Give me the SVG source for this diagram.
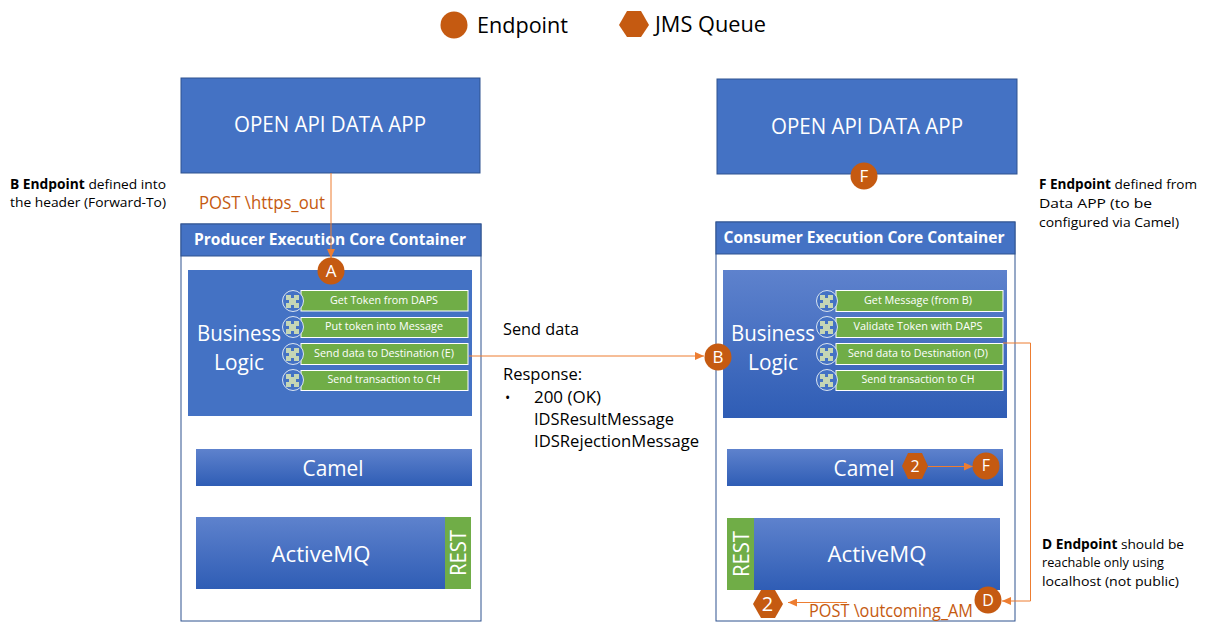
<svg xmlns="http://www.w3.org/2000/svg" width="1211" height="634" viewBox="0 0 1211 634">
<style>
text{font-family:"Open Sans","Noto Sans","Liberation Sans",sans-serif}
.w{fill:#fff}.k{fill:#000}.o{fill:#c55a11}
.m{text-anchor:middle}
.app{fill:#4472c4;stroke:#2f528f;stroke-width:1}
.cont{fill:#fff;stroke:#2f528f;stroke-width:1}
.hdr{fill:#4472c4;stroke:#2f528f;stroke-width:1}
.ep{fill:#c55a11}
.item{fill:#70ad47;stroke:#fff;stroke-width:1}
.ic{fill:#4472c4;stroke:#dbe5f1;stroke-width:1}
.pz{fill:#c5d6b5}
.ln{fill:none;stroke:#ed7d31;stroke-width:1;marker-end:url(#a)}
.it{font-size:10.5px}
.note{font-size:13.5px}
.big{font-size:22px}
.mid{font-size:16px}
.post{font-size:17.5px}
</style>
<defs>
<marker id="a" markerWidth="10" markerHeight="8" refX="9" refY="4" orient="auto" markerUnits="userSpaceOnUse"><path d="M0 0L9 4L0 8Z" fill="#ed7d31"/></marker>
<linearGradient id="g" x1="0" y1="0" x2="0" y2="1"><stop offset="0" stop-color="#5e82cd"/><stop offset="1" stop-color="#2f5db5"/></linearGradient>
<g id="puz"><circle r="10.5" class="ic"/><path class="pz" d="M-7-6h5v3h3v-3h5v5h-3v3h3v5h-5v-3h-3v3h-5v-5h3v-3h-3z"/></g>
</defs>
<g id="legend">
<circle class="ep" cx="454" cy="25" r="13.5"/>
<text class="k big" x="477" y="33" textLength="91" lengthAdjust="spacingAndGlyphs">Endpoint</text>
<path class="ep" d="M619 25L627 11H641L649 25L641 37H627Z"/>
<text class="k big" x="655" y="32" textLength="111" lengthAdjust="spacingAndGlyphs">JMS Queue</text>
</g>
<g id="producer-app"><rect class="app" x="181" y="78" width="299" height="95"/><text class="w m big" x="330" y="132" textLength="192" lengthAdjust="spacingAndGlyphs">OPEN API DATA APP</text></g>
<g id="consumer-app"><rect class="app" x="717" y="79" width="300" height="95"/><text class="w m big" x="867" y="134" textLength="192" lengthAdjust="spacingAndGlyphs">OPEN API DATA APP</text></g>
<g id="producer-container"><rect class="cont" x="181" y="224" width="300" height="397"/><rect class="hdr" x="181" y="224" width="300" height="32"/><text class="w m" x="330" y="245" font-size="16.500" font-weight="700" textLength="272" lengthAdjust="spacingAndGlyphs">Producer Execution Core Container</text></g>
<g id="consumer-container"><rect class="cont" x="716" y="222" width="299" height="399"/><rect class="hdr" x="716" y="222" width="299" height="32"/><text class="w m" x="864" y="243" font-size="16.500" font-weight="700" textLength="281" lengthAdjust="spacingAndGlyphs">Consumer Execution Core Container</text></g>
<g id="producer-logic"><rect x="188" y="270" width="284" height="146" fill="#4472c4"/><text class="w m big" x="239" y="341" textLength="84" lengthAdjust="spacingAndGlyphs">Business</text><text class="w m big" x="239" y="370" textLength="50" lengthAdjust="spacingAndGlyphs">Logic</text></g>
<g id="p1"><rect class="item" x="301" y="290.5" width="167" height="20.5"/><use href="#puz" x="293" y="301"/><text class="w m it" x="384" y="304" textLength="108" lengthAdjust="spacingAndGlyphs">Get Token from DAPS</text></g>
<g id="p2"><rect class="item" x="301" y="317.5" width="167" height="20"/><use href="#puz" x="293" y="327"/><text class="w m it" x="384" y="330" textLength="118" lengthAdjust="spacingAndGlyphs">Put token into Message</text></g>
<g id="p3"><rect class="item" x="301" y="343.5" width="167" height="21"/><use href="#puz" x="293" y="354"/><text class="w m it" x="384" y="357" textLength="140" lengthAdjust="spacingAndGlyphs">Send data to Destination (E)</text></g>
<g id="p4"><rect class="item" x="301" y="370.5" width="167" height="20"/><use href="#puz" x="293" y="380"/><text class="w m it" x="384" y="383" textLength="113" lengthAdjust="spacingAndGlyphs">Send transaction to CH</text></g>
<g id="consumer-logic"><rect x="723" y="270" width="284" height="148" fill="url(#g)"/><text class="w m big" x="773" y="341" textLength="84" lengthAdjust="spacingAndGlyphs">Business</text><text class="w m big" x="773" y="370" textLength="50" lengthAdjust="spacingAndGlyphs">Logic</text></g>
<g id="c1"><rect class="item" x="836" y="290.5" width="167" height="21"/><use href="#puz" x="827" y="301"/><text class="w m it" x="918" y="304" textLength="108" lengthAdjust="spacingAndGlyphs">Get Message (from B)</text></g>
<g id="c2"><rect class="item" x="836" y="317.5" width="167" height="20"/><use href="#puz" x="827" y="327"/><text class="w m it" x="918" y="330" textLength="129" lengthAdjust="spacingAndGlyphs">Validate Token with DAPS</text></g>
<g id="c3"><rect class="item" x="836" y="343.5" width="167" height="21"/><use href="#puz" x="827" y="354"/><text class="w m it" x="918" y="357" textLength="140" lengthAdjust="spacingAndGlyphs">Send data to Destination (D)</text></g>
<g id="c4"><rect class="item" x="836" y="370.5" width="167" height="20"/><use href="#puz" x="827" y="380"/><text class="w m it" x="918" y="383" textLength="113" lengthAdjust="spacingAndGlyphs">Send transaction to CH</text></g>
<g id="producer-camel"><rect x="196" y="449" width="276" height="37" fill="url(#g)"/><text class="w m big" x="333" y="476" textLength="61" lengthAdjust="spacingAndGlyphs">Camel</text></g>
<g id="consumer-camel"><rect x="727" y="449" width="276" height="37" fill="url(#g)"/><text class="w m big" x="864" y="476" textLength="61" lengthAdjust="spacingAndGlyphs">Camel</text></g>
<g id="producer-amq"><rect x="196" y="517" width="275" height="72" fill="url(#g)"/><rect x="445" y="517" width="26" height="72" fill="#70ad47"/><text class="w m big" x="321" y="562" textLength="99" lengthAdjust="spacingAndGlyphs">ActiveMQ</text><text class="w m" transform="translate(466 553) rotate(-90)" font-size="22" textLength="46" lengthAdjust="spacingAndGlyphs">REST</text></g>
<g id="consumer-amq"><rect x="727" y="518" width="273" height="72" fill="url(#g)"/><rect x="727" y="518" width="27" height="72" fill="#70ad47"/><text class="w m big" x="877" y="562" textLength="99" lengthAdjust="spacingAndGlyphs">ActiveMQ</text><text class="w m" transform="translate(749 554) rotate(-90)" font-size="22" textLength="46" lengthAdjust="spacingAndGlyphs">REST</text></g>
<g id="connectors">
<path class="ln" d="M331 173V258"/>
<path class="ln" d="M469 356H704"/>
<path class="ln" d="M1003 343H1030.500V601H1002"/>
<path class="ln" d="M928 466.500H973"/>
<path class="ln" d="M847 602.500H788"/>
</g>
<g id="ep-a"><circle class="ep" cx="331" cy="271" r="13.500"/><text class="w m" x="331" y="277" font-size="17">A</text></g>
<g id="ep-b"><circle class="ep" cx="718" cy="357" r="13.500"/><text class="w m" x="718" y="363" font-size="17">B</text></g>
<g id="ep-f1"><circle class="ep" cx="864" cy="176" r="13.500"/><text class="w m" x="864" y="182" font-size="17">F</text></g>
<g id="ep-f2"><circle class="ep" cx="986" cy="466" r="13.500"/><text class="w m" x="986" y="471" font-size="16">F</text></g>
<g id="ep-d"><circle class="ep" cx="988" cy="600" r="13.500"/><text class="w m" x="988" y="606" font-size="16">D</text></g>
<g id="q-2a"><path class="ep" d="M902 466L908 453H922L928 466L922 479H908Z"/><text class="w m" x="915" y="472" font-size="16">2</text></g>
<g id="q-2b"><path class="ep" d="M753 604L761 590H775L783 604L775 618H761Z"/><text class="w m" x="767.500" y="611" font-size="20">2</text></g>
<g id="labels">
<text class="o post" x="199" y="209" textLength="126" lengthAdjust="spacingAndGlyphs">POST \https_out</text>
<text class="o post" x="809" y="617" textLength="164" lengthAdjust="spacingAndGlyphs">POST \outcoming_AM</text>
<text class="k mid" x="503" y="335" textLength="76" lengthAdjust="spacingAndGlyphs">Send data</text>
<text class="k mid" x="503" y="380" textLength="79" lengthAdjust="spacingAndGlyphs">Response:</text>
<text class="k" x="505" y="403" font-size="14">•</text>
<text class="k mid" x="534" y="403" textLength="67" lengthAdjust="spacingAndGlyphs">200 (OK)</text>
<text class="k mid" x="534" y="425" textLength="140" lengthAdjust="spacingAndGlyphs">IDSResultMessage</text>
<text class="k mid" x="534" y="447" textLength="165" lengthAdjust="spacingAndGlyphs">IDSRejectionMessage</text>
<text class="k note" x="10" y="189" textLength="156" lengthAdjust="spacingAndGlyphs"><tspan font-weight="700">B Endpoint</tspan> defined into</text>
<text class="k note" x="10" y="207" textLength="156" lengthAdjust="spacingAndGlyphs">the header (Forward-To)</text>
<text class="k note" x="1039" y="189" textLength="158" lengthAdjust="spacingAndGlyphs"><tspan font-weight="700">F Endpoint</tspan> defined from</text>
<text class="k note" x="1039" y="208" textLength="113" lengthAdjust="spacingAndGlyphs">Data APP (to be</text>
<text class="k note" x="1039" y="227" textLength="140" lengthAdjust="spacingAndGlyphs">configured via Camel)</text>
<text class="k note" x="1042" y="549" textLength="142" lengthAdjust="spacingAndGlyphs"><tspan font-weight="700">D Endpoint</tspan> should be</text>
<text class="k note" x="1042" y="567" textLength="122" lengthAdjust="spacingAndGlyphs">reachable only using</text>
<text class="k note" x="1042" y="586" textLength="137" lengthAdjust="spacingAndGlyphs">localhost (not public)</text>
</g>
</svg>
